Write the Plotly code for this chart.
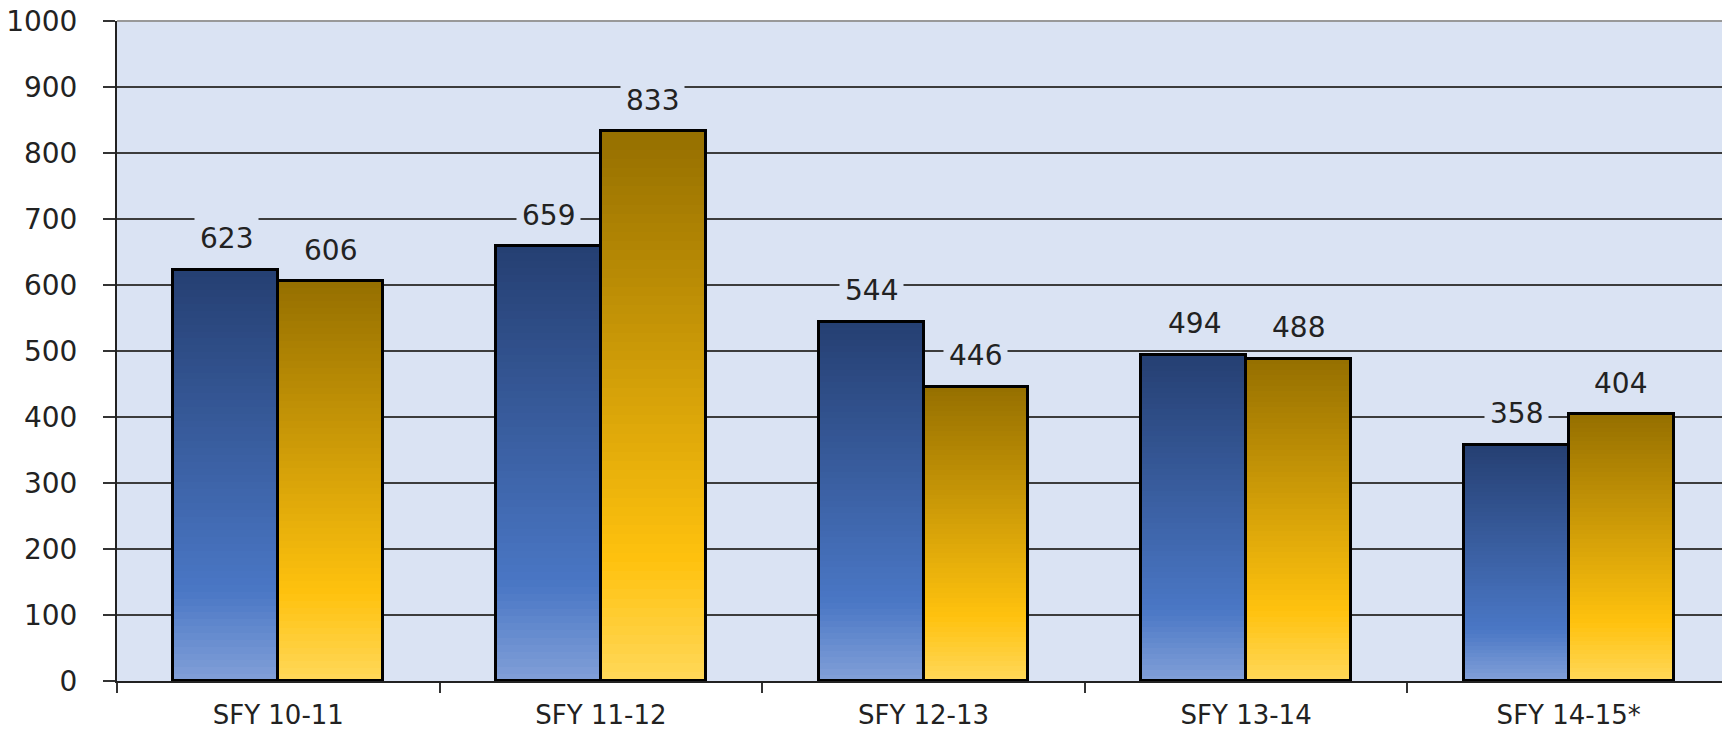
import plotly.graph_objects as go

categories = ["SFY 10-11", "SFY 11-12", "SFY 12-13", "SFY 13-14", "SFY 14-15*"]
series_blue = [623, 659, 544, 494, 358]
series_gold = [606, 833, 446, 488, 404]
y_ticks = [0, 100, 200, 300, 400, 500, 600, 700, 800, 900, 1000]

BG = "#dae3f3"
BAR_W = 0.325
N = 60

blue_stops = [(0.0, (0x82, 0xa0, 0xd8)), (0.22, (0x4a, 0x77, 0xc5)), (1.0, (0x25, 0x3f, 0x72))]
gold_stops = [(0.0, (0xff, 0xd8, 0x5a)), (0.22, (0xff, 0xc2, 0x0e)), (1.0, (0x95, 0x6f, 0x00))]


def grad(stops, f):
    for (p0, c0), (p1, c1) in zip(stops[:-1], stops[1:]):
        if p0 <= f <= p1:
            t = (f - p0) / (p1 - p0) if p1 > p0 else 0
            c = [round(a + (b - a) * t) for a, b in zip(c0, c1)]
            return "rgb(%d,%d,%d)" % tuple(c)
    return "rgb(%d,%d,%d)" % stops[-1][1]


fig = go.Figure()

for vals, stops, off in [(series_blue, blue_stops, -BAR_W), (series_gold, gold_stops, 0.0)]:
    for k in range(N):
        f = (N - k) / N
        fig.add_trace(go.Bar(
            x=categories, y=[v * f for v in vals], width=BAR_W, offset=off,
            marker=dict(color=grad(stops, f - 0.5 / N), line=dict(width=0)),
            showlegend=False, hoverinfo="skip"))
    fig.add_trace(go.Bar(
        x=categories, y=vals, width=BAR_W, offset=off,
        marker=dict(color="rgba(0,0,0,0)", line=dict(color="black", width=3)),
        showlegend=False))

annotations = []
for vals, xs in [(series_blue, -52), (series_gold, 52)]:
    for c, v in zip(categories, vals):
        annotations.append(dict(
            x=c, y=v, xref="x", yref="y", text=str(v), showarrow=False,
            xshift=xs, yshift=31, yanchor="middle",
            font=dict(family="DejaVu Sans", size=28, color="#222222"),
            bgcolor=BG, borderpad=5))

fig.update_layout(
    width=1722, height=724,
    margin=dict(l=109, r=0, t=13, b=51),
    paper_bgcolor="white", plot_bgcolor=BG,
    barmode="overlay", bargap=0,
    annotations=annotations,
    shapes=[dict(type="line", xref="paper", yref="paper", x0=0, x1=1, y0=1, y1=1,
                 line=dict(color="#999999", width=2))],
)
fig.update_xaxes(
    type="category", tickson="boundaries", ticks="outside", ticklen=10,
    tickwidth=1.5, tickcolor="#333333", automargin=False, ticklabelstandoff=10,
    ticklabeloverflow="allow",
    showline=True, linecolor="#222222", linewidth=2,
    tickfont=dict(family="DejaVu Sans", size=26, color="#222222"),
    showgrid=False, range=[-0.5, 4.5])
fig.update_yaxes(
    range=[0, 1000], tickvals=y_ticks, ticks="outside", ticklen=12,
    tickwidth=1.5, tickcolor="#333333", ticklabelstandoff=20, automargin=False,
    ticklabeloverflow="allow",
    showline=True, linecolor="#222222", linewidth=2,
    showgrid=True, gridcolor="#3c3c3c", gridwidth=1.5, zeroline=False,
    tickfont=dict(family="DejaVu Sans", size=28, color="#222222"))

fig.write_html("out.html")
